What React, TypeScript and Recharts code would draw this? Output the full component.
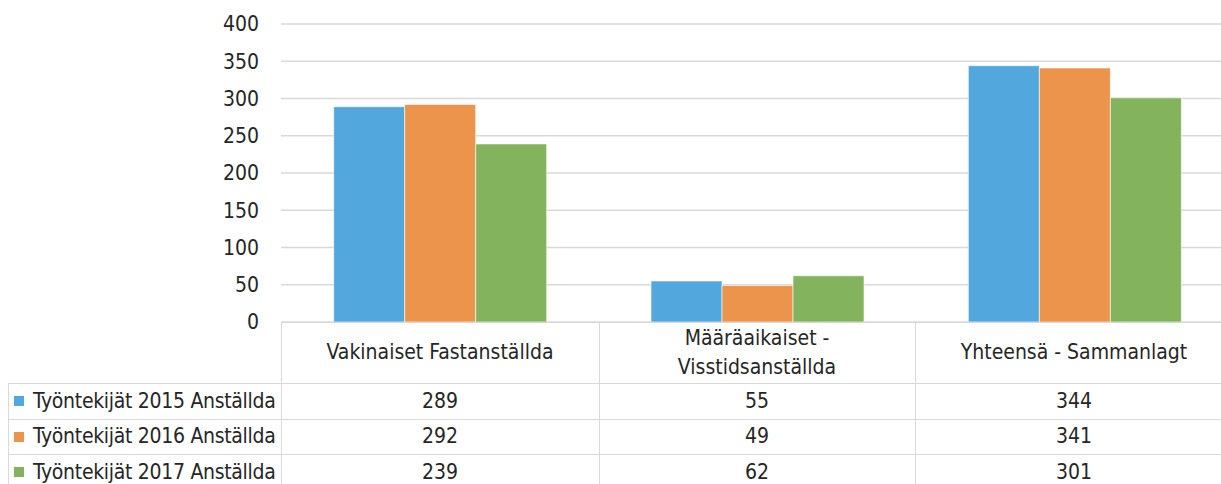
import { BarChart, Bar, XAxis, YAxis, CartesianGrid } from 'recharts'

const categories = ['Vakinaiset Fastanställda', 'Määräaikaiset -\nVisstidsanställda', 'Yhteensä - Sammanlagt']
const seriesNames = ['Työntekijät 2015 Anställda', 'Työntekijät 2016 Anställda', 'Työntekijät 2017 Anställda']
const values2015 = [289, 55, 344]
const values2016 = [292, 49, 341]
const values2017 = [239, 62, 301]
const yTicks = [0, 50, 100, 150, 200, 250, 300, 350, 400]
const colors = ['#52a7dc', '#ec944b', '#84b35d']

const seriesValues = [values2015, values2016, values2017]
const data = categories.map((name, i) => ({
  name,
  s0: values2015[i],
  s1: values2016[i],
  s2: values2017[i],
}))

const FONT = '"Liberation Sans Narrow", "DejaVu Sans Condensed", "Roboto", sans-serif'
const TEXT = '#262626'
const LINE = '#d9d9d9'

// table geometry (px, page coords)
const colX = [281, 599, 915, 1233]
const tableTop = 322
const headerH = 61
const rowH = 35.5
const leftX = 8

function DataTable() {
  const rowTop = (r: number) => tableTop + headerH + r * rowH
  const lines: React.ReactNode[] = []
  // horizontal lines
  lines.push(<div key="ht" style={{ position: 'absolute', left: colX[0], top: tableTop, width: colX[3] - colX[0], height: 1, background: LINE }} />)
  for (let r = 0; r < 3; r++) {
    lines.push(<div key={'h' + r} style={{ position: 'absolute', left: leftX, top: rowTop(r), width: colX[3] - leftX, height: 1, background: LINE }} />)
  }
  // vertical lines
  lines.push(<div key="vl" style={{ position: 'absolute', left: leftX, top: rowTop(0), width: 1, height: 200, background: LINE }} />)
  colX.forEach((x, i) => {
    lines.push(<div key={'v' + i} style={{ position: 'absolute', left: x, top: tableTop, width: 1, height: 200, background: LINE }} />)
  })

  return (
    <>
      {lines}
      {categories.map((c, i) => (
        <div
          key={'c' + i}
          style={{
            position: 'absolute', left: colX[i], top: tableTop, width: colX[i + 1] - colX[i], height: headerH,
            display: 'flex', alignItems: 'center', justifyContent: 'center', textAlign: 'center',
            whiteSpace: 'pre-line', lineHeight: '29px',
          }}
        >
          {c}
        </div>
      ))}
      {seriesNames.map((s, r) => (
        <div key={'r' + r}>
          <div style={{ position: 'absolute', left: leftX + 6, top: rowTop(r) + 13, width: 10, height: 10, background: colors[r] }} />
          <div style={{ position: 'absolute', left: leftX + 25, top: rowTop(r), height: rowH, display: 'flex', alignItems: 'center', whiteSpace: 'nowrap', letterSpacing: '-0.3px' }}>
            {s}
          </div>
          {seriesValues[r].map((v, i) => (
            <div
              key={i}
              style={{
                position: 'absolute', left: colX[i], top: rowTop(r), width: colX[i + 1] - colX[i], height: rowH,
                display: 'flex', alignItems: 'center', justifyContent: 'center',
              }}
            >
              {v}
            </div>
          ))}
        </div>
      ))}
    </>
  )
}

export default function App() {
  return (
    <div style={{ position: 'absolute', left: 0, top: 0, width: 1221, height: 484, overflow: 'hidden', background: '#fff', fontFamily: FONT, fontSize: 21, color: TEXT }}>
      <BarChart
        width={1233}
        height={484}
        data={data}
        margin={{ top: 24, right: 0, bottom: 162, left: 200 }}
        barCategoryGap="16.6%"
        barGap={0}
      >
        <CartesianGrid vertical={false} stroke={LINE} strokeWidth={1.5} />
        <XAxis dataKey="name" hide />
        <YAxis
          width={81}
          domain={[0, 400]}
          ticks={yTicks}
          axisLine={false}
          tickLine={false}
          tickMargin={16}
          tick={{ fill: TEXT, fontSize: 21, fontFamily: FONT }}
        />
        {['s0', 's1', 's2'].map((k, i) => (
          <Bar key={k} dataKey={k} fill={colors[i]} stroke="#ffffff" strokeWidth={0.6} isAnimationActive={false} />
        ))}
      </BarChart>
      <DataTable />
    </div>
  )
}
